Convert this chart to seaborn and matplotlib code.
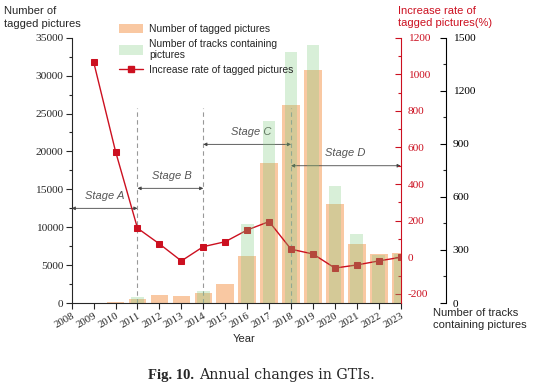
import numpy as np
import pandas as pd
import matplotlib
matplotlib.use("Agg")
import matplotlib.pyplot as plt
import seaborn as sns
from matplotlib.patches import Patch
from matplotlib.lines import Line2D
from matplotlib.ticker import MultipleLocator

# ---------------- data ----------------
years = list(range(2008, 2024))
year_labels = [str(y) for y in years]
tagged_pictures = [2, 25, 170, 560, 1050, 880, 1350, 2500, 6200, 18500,
                   26100, 30800, 13000, 7850, 6450, 6580]
tracks_with_pictures = [0, 0, 0, 36, 0, 0, 68, 0, 445, 1031,
                        1420, 1460, 663, 388, 270, 275]
rate_years = list(range(2009, 2024))
increase_rate = [1068, 578, 159, 73, -20, 58, 85, 149, 195, 44, 18, -59, -42, -20, 0]

divider_years = [2011, 2014, 2018]
stage_names = ["Stage A", "Stage B", "Stage C", "Stage D"]
stage_bounds = [(2008, 2011), (2011, 2014), (2014, 2018), (2018, 2023)]
stage_arrow_y = [12490, 15130, 20930, 18110]
stage_text_xy = [(2009.52, 14150), (2012.56, 16750), (2016.18, 22590), (2020.46, 19750)]

# ---------------- style ----------------
sns.set_style("ticks")
plt.rcParams["font.family"] = ["Liberation Sans", "DejaVu Sans"]
plt.rcParams["axes.unicode_minus"] = False

RED = "#CC1020"
ORANGE = "#F9C8A2"
GREEN = "#7FCC7F"
SERIF = "Liberation Serif"

fig = plt.figure(figsize=(5.33, 3.86), dpi=100)
ax = fig.add_axes([0.1345, 0.215, 0.6173, 0.6873])
ax_r = ax.twinx()
ax_g = ax.twinx()

df = pd.DataFrame({"year": years, "tagged": tagged_pictures,
                   "tracks": tracks_with_pictures})

sns.barplot(data=df, x="year", y="tagged", native_scale=True, width=0.8,
            color=ORANGE, saturation=1, errorbar=None, linewidth=0, ax=ax)
sns.barplot(data=df, x="year", y="tracks", native_scale=True, width=0.58,
            color=GREEN, saturation=1, errorbar=None, linewidth=0, alpha=0.3, ax=ax_g)
sns.lineplot(x=rate_years, y=increase_rate, ax=ax_r, color=RED, marker="s",
             markersize=4.3, markeredgecolor=RED, linewidth=1)

# dividers, arrows and stage labels (left-axis units)
for yr in divider_years:
    ax.plot([yr, yr], [0, 25700], color="#999999", lw=0.8, ls=(0, (4, 3)), zorder=5)
for name, (x0, x1), ay, (tx, ty) in zip(stage_names, stage_bounds, stage_arrow_y, stage_text_xy):
    ax.annotate("", xy=(x1, ay), xytext=(x0, ay),
                arrowprops=dict(arrowstyle="<|-|>", color="#444444", lw=0.6,
                                mutation_scale=5, shrinkA=0, shrinkB=0), zorder=6)
    ax.text(tx, ty, name, ha="center", va="center", fontsize=8, style="italic",
            color="#555555", zorder=6)

# ---------------- axes ----------------
for a in (ax, ax_r, ax_g):
    a.set_xlabel("")
    a.set_ylabel("")
ax.set_xlim(2008, 2023)
ax.set_ylim(0, 35000)
ax_r.set_ylim(-250, 1200)
ax_g.set_ylim(0, 1500)

ax.set_xticks(years)
ax.set_xticklabels(year_labels, rotation=30, ha="right", rotation_mode="anchor",
                   fontsize=7.8, fontfamily=SERIF)
ax.tick_params(axis="x", direction="out", length=4, width=0.8, pad=2)

ax.yaxis.set_major_locator(MultipleLocator(5000))
ax.yaxis.set_minor_locator(MultipleLocator(2500))
ax.tick_params(axis="y", which="major", direction="out", length=4, width=0.8,
               labelsize=8.2, labelfontfamily=SERIF, pad=2)
ax.tick_params(axis="y", which="minor", direction="out", length=2.5, width=0.8)

ax_r.yaxis.set_major_locator(MultipleLocator(200))
ax_r.yaxis.set_minor_locator(MultipleLocator(100))
ax_r.tick_params(axis="y", which="major", direction="in", length=4, width=0.8,
                 colors=RED, labelsize=8.2, labelfontfamily=SERIF, pad=5)
ax_r.tick_params(axis="y", which="minor", direction="in", length=2.5, width=0.8, colors=RED)

ax_g.yaxis.set_major_locator(MultipleLocator(300))
ax_g.yaxis.set_minor_locator(MultipleLocator(150))
ax_g.tick_params(axis="y", which="major", direction="in", length=4, width=0.8,
                 colors="black", labelsize=8.2, labelfontfamily=SERIF, pad=5)
ax_g.tick_params(axis="y", which="minor", direction="in", length=2.5, width=0.8)

for s in ("top", "right"):
    ax.spines[s].set_visible(False)
for s in ("left", "top", "bottom"):
    ax_r.spines[s].set_visible(False)
    ax_g.spines[s].set_visible(False)
ax.spines["left"].set_linewidth(0.8)
ax.spines["bottom"].set_linewidth(0.8)
ax_r.spines["right"].set_color(RED)
ax_r.spines["right"].set_linewidth(0.8)
ax_g.spines["right"].set_position(("axes", 1.137))
ax_g.spines["right"].set_linewidth(0.8)
ax_g.spines["right"].set_color("black")
ax.grid(False); ax_r.grid(False); ax_g.grid(False)

# ---------------- legend ----------------
handles = [Patch(facecolor=ORANGE, edgecolor="none"),
           Patch(facecolor=GREEN, alpha=0.3, edgecolor="none"),
           Line2D([0], [0], color=RED, marker="s", markersize=4.3, lw=1)]
labels = ["Number of tagged pictures", "Number of tracks containing\npictures",
          "Increase rate of tagged pictures"]
fig.legend(handles, labels, loc="upper left", bbox_to_anchor=(119 / 533, 1 - 23.5 / 386),
           frameon=False, fontsize=7.4, handlelength=2.35, handleheight=1.1,
           handletextpad=0.6, borderpad=0, borderaxespad=0, labelspacing=0.45)

# ---------------- texts ----------------
W, H = 533, 386
fig.text(4 / W, 1 - 6.5 / H, "Number of\ntagged pictures", ha="left", va="top",
         fontsize=8, linespacing=1.3)
fig.text(397.5 / W, 1 - 6 / H, "Increase rate of\ntagged pictures(%)", ha="left", va="top",
         fontsize=8, linespacing=1.3, color=RED)
fig.text(433 / W, 1 - 308.5 / H, "Number of tracks\ncontaining pictures", ha="left", va="top",
         fontsize=8, linespacing=1.2)
fig.text(244 / W, 1 - 339 / H, "Year", ha="center", va="center", fontsize=8)

t1 = fig.text(148 / W, 1 - 379.5 / H, "Fig. 10.", ha="left", va="baseline", fontsize=10.5,
              fontfamily=SERIF, fontweight="bold")
renderer = fig.canvas.get_renderer()
bb = t1.get_window_extent(renderer)
x_start = bb.x1 + 5.5
t2 = fig.text(x_start / W, 1 - 379.5 / H, "Annual changes in GTIs.", ha="left",
              va="baseline", fontsize=10.5, fontfamily="DejaVu Serif")
bb2 = t2.get_window_extent(renderer)
# fit the caption's right end to the reference span
scale = (377 - x_start) / (bb2.x1 - x_start)
t2.set_fontsize(10.5 * scale)

fig.savefig("out.png", dpi=100)
